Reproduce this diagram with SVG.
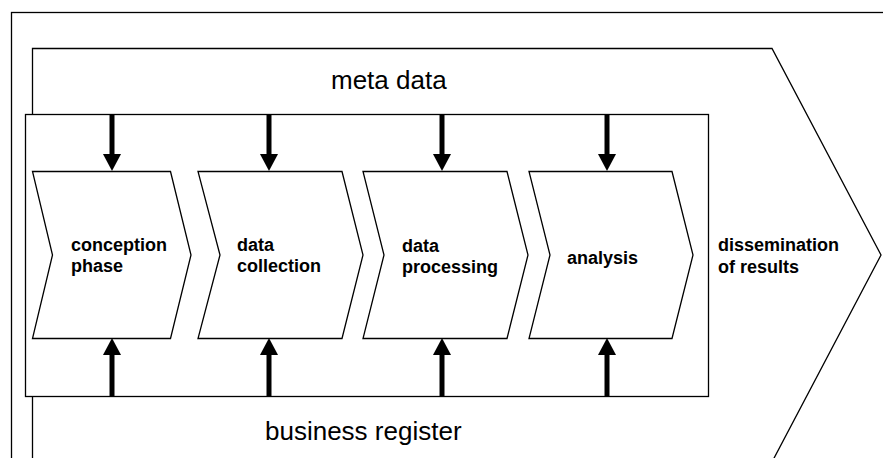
<svg xmlns="http://www.w3.org/2000/svg" width="883" height="458" viewBox="0 0 883 458">
  <style>
    .frame { fill: none; stroke: #000; stroke-width: 1.3; }
    .shape { fill: #fff; stroke: #000; stroke-width: 1.3; }
    .big { font-family: "Liberation Sans", Arial, sans-serif; font-size: 26px; fill: #000; }
    .lbl { font-family: "Liberation Sans", Arial, sans-serif; font-size: 18px; font-weight: bold; fill: #000; }
    .flow { stroke: #000; stroke-width: 5; fill: none; marker-end: url(#head); }
  </style>
  <defs>
    <marker id="head" markerUnits="userSpaceOnUse" markerWidth="18" markerHeight="18" refX="0" refY="9" orient="auto" viewBox="0 0 17 18">
      <path d="M0,0 L17,9 L0,18 Z" fill="#000"/>
    </marker>
  </defs>

  <!-- page frame -->
  <rect class="frame" x="11.5" y="12.5" width="900" height="500"/>

  <!-- overall process arrow: meta data / business register / dissemination -->
  <g id="process">
    <path class="shape" d="M32.5,48.5 L772,48.5 L881,255 L772,462 L32.5,462 Z"/>
    <text class="big" x="331" y="89">meta data</text>
    <text class="big" x="265" y="440">business register</text>
    <text class="lbl" x="718" y="251">dissemination</text>
    <text class="lbl" x="718" y="273">of results</text>
  </g>

  <!-- statistical production box -->
  <g id="production">
    <rect class="shape" x="25.5" y="114.5" width="683" height="282"/>
  </g>

  <g id="conception">
    <path class="shape" d="M32.5,171.5 L170.5,171.5 L191,255 L170.5,338.5 L32.5,338.5 L52.5,255 Z"/>
    <text class="lbl" x="71" y="251">conception</text>
    <text class="lbl" x="71" y="272">phase</text>
  </g>

  <g id="collection">
    <path class="shape" d="M198,171.5 L342,171.5 L363,255 L342,338.5 L198,338.5 L220,255 Z"/>
    <text class="lbl" x="237" y="251">data</text>
    <text class="lbl" x="237" y="272">collection</text>
  </g>

  <g id="processing">
    <path class="shape" d="M363,171.5 L507,171.5 L528,255 L507,338.5 L363,338.5 L384,255 Z"/>
    <text class="lbl" x="402" y="252">data</text>
    <text class="lbl" x="402" y="273">processing</text>
  </g>

  <g id="analysis">
    <path class="shape" d="M529,171.5 L672,171.5 L693,255 L672,338.5 L529,338.5 L550,255 Z"/>
    <text class="lbl" x="567" y="264">analysis</text>
  </g>

  <!-- inputs from meta data (top) and business register (bottom) -->
  <g id="connectors">
    <line class="flow" x1="112" y1="114" x2="112" y2="154"/>
    <line class="flow" x1="269" y1="114" x2="269" y2="154"/>
    <line class="flow" x1="442" y1="114" x2="442" y2="154"/>
    <line class="flow" x1="607" y1="114" x2="607" y2="154"/>
    <line class="flow" x1="112" y1="396" x2="112" y2="355"/>
    <line class="flow" x1="269" y1="396" x2="269" y2="355"/>
    <line class="flow" x1="442" y1="396" x2="442" y2="355"/>
    <line class="flow" x1="607" y1="396" x2="607" y2="355"/>
  </g>
</svg>
